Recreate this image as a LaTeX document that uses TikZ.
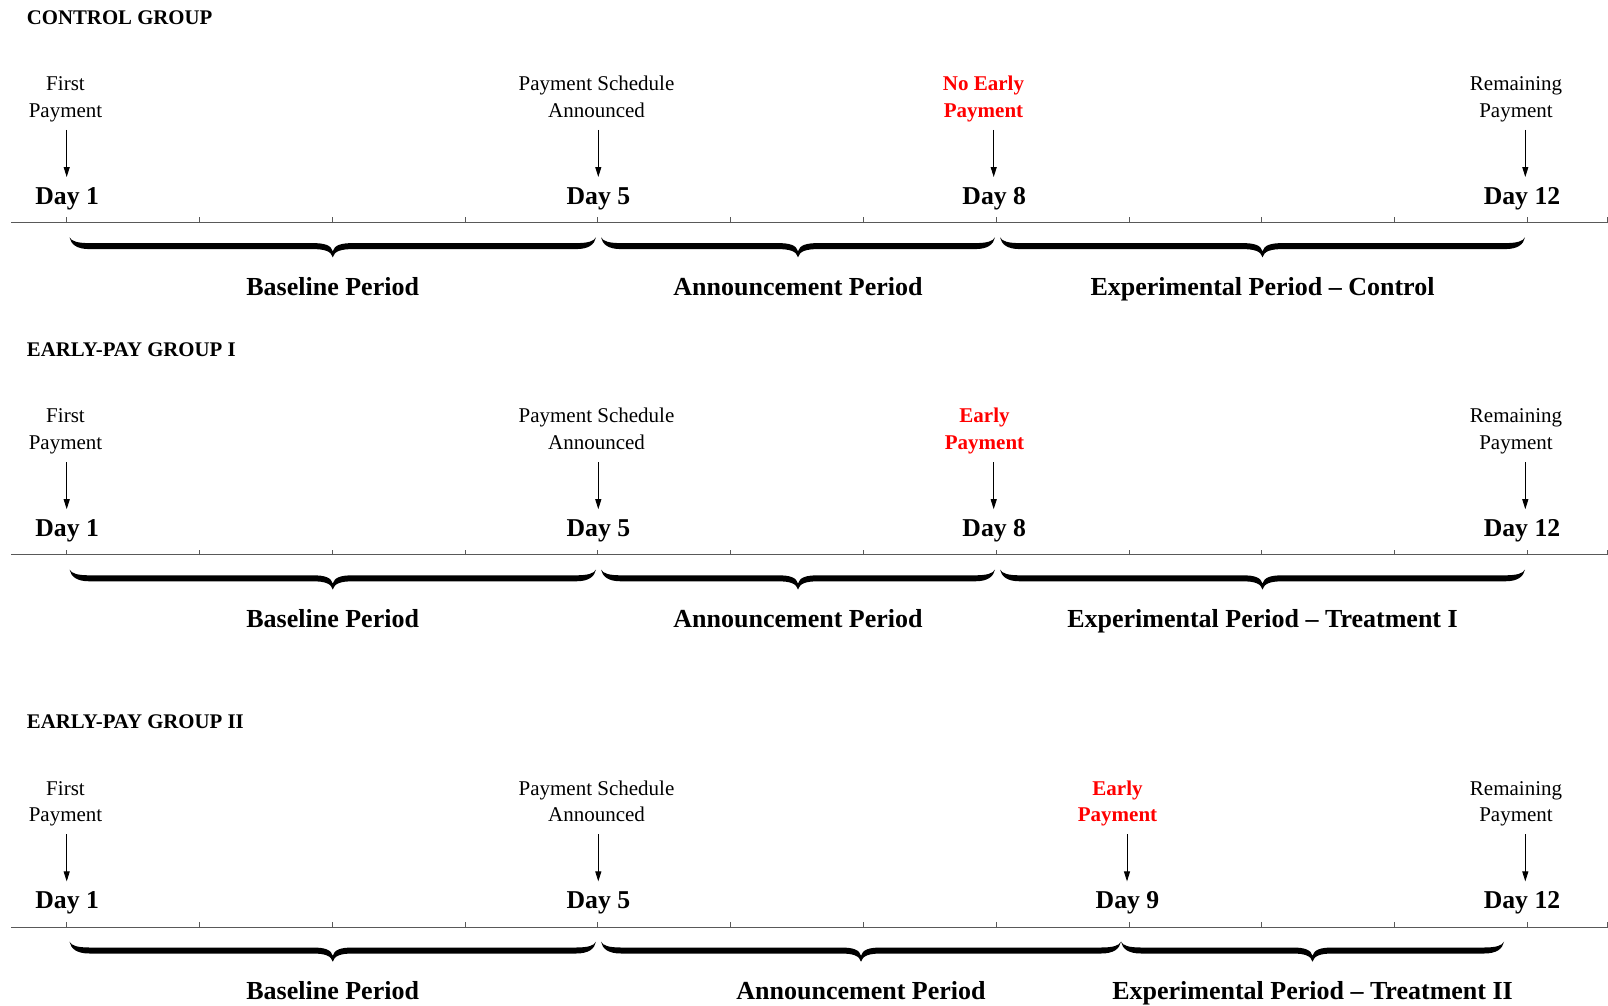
\documentclass[tikz,border=0pt]{standalone}
\usepackage{fontspec}
\setmainfont{Liberation Serif}
\usetikzlibrary{arrows.meta}
\tikzset{
  x=1pt,y=-1pt,
  grouptitle/.style={anchor=base west,inner sep=0,font=\fontsize{20.8}{25}\selectfont\bfseries},
  evlabel/.style={anchor=base,inner sep=0,align=center,font=\fontsize{21}{26.7}\selectfont},
  redlabel/.style={evlabel,text=red,font=\fontsize{21}{26.7}\selectfont\bfseries},
  daylabel/.style={anchor=base,inner sep=0,font=\fontsize{25.7}{30}\selectfont\bfseries},
  periodlabel/.style={anchor=base,inner sep=0,font=\fontsize{26}{30}\selectfont\bfseries},
  axisline/.style={draw=black!65,line width=1.1pt},
  tickmark/.style={draw=black!65,line width=1pt},
  evarrow/.style={draw=black,line width=0.9pt,-{Triangle[length=10pt,width=6pt]}},
}
% brace from x=#1 to x=#2
\newcommand\DrawBrace[2]{%
  \pgfmathsetmacro\brA{#1}\pgfmathsetmacro\brB{#2}\pgfmathsetmacro\brM{(#1+#2)/2}%
  \fill[black] (\brA,237.3) .. controls (\brA+1.5,244.3) and (\brA+7,249.1) .. (\brA+20,249.1)
    -- (\brM-20,249.1) .. controls (\brM-8,249.1) and (\brM-1.5,251.3) .. (\brM,257.3)
    .. controls (\brM+1.5,251.3) and (\brM+8,249.1) .. (\brM+20,249.1)
    -- (\brB-20,249.1) .. controls (\brB-7,249.1) and (\brB-1.5,244.3) .. (\brB,237.3)
    .. controls (\brB-2,241.3) and (\brB-8,243.1) .. (\brB-20,243.1)
    -- (\brM+20,243.1) .. controls (\brM+8,243.1) and (\brM+1.5,245.3) .. (\brM,251.3)
    .. controls (\brM-1.5,245.3) and (\brM-8,243.1) .. (\brM-20,243.1)
    -- (\brA+20,243.1) .. controls (\brA+8,243.1) and (\brA+2,241.3) .. (\brA,237.3) -- cycle;%
}
% parts shared by all three groups; #1 = name suffix, #2 = title
\newcommand\CommonPart[2]{%
  \node[grouptitle] (title#1) at (26.7,24.3) {#2};
  \node[evlabel] (first#1) at (65.5,117.3) {First\\Payment};
  \node[evlabel] (sched#1) at (596.5,117.3) {Payment Schedule\\Announced};
  \node[evlabel] (rem#1) at (1516,117.3) {Remaining\\Payment};
  \node[daylabel] (dayA#1) at (67.2,204) {Day 1};
  \node[daylabel] (dayB#1) at (598.4,204) {Day 5};
  \node[daylabel] (dayD#1) at (1522,204) {Day 12};
  \coordinate (sA#1) at (66.7,130); \coordinate (eA#1) at (66.7,177);
  \coordinate (sB#1) at (598.3,130); \coordinate (eB#1) at (598.3,177);
  \coordinate (sD#1) at (1525.3,130); \coordinate (eD#1) at (1525.3,177);
  \draw[evarrow] (sA#1) -- (eA#1);
  \draw[evarrow] (sB#1) -- (eB#1);
  \draw[evarrow] (sD#1) -- (eD#1);
  \coordinate (axL#1) at (11,222.7); \coordinate (axR#1) at (1608,222.7);
  \draw[axisline] (axL#1) -- (axR#1);
  \foreach \d in {1,...,12} \draw[tickmark] ({66.7+(\d-1)*132.8},223) -- ++(0,-5.6);
  \draw[tickmark] (1607.3,223) -- ++(0,-5.6);
  \DrawBrace{69.5}{596}
  \node[periodlabel] (perA#1) at (332.7,295.5) {Baseline Period};
}
\begin{document}
\begin{tikzpicture}
\useasboundingbox (0,0) rectangle (1608,1006);
% ---------- CONTROL GROUP ----------
\begin{scope}
  \CommonPart{a}{CONTROL GROUP}
  \node[redlabel] (red a) at (983.5,117.3) {No Early\\Payment};
  \node[daylabel] (dayC a) at (994.2,204) {Day 8};
  \coordinate (sCa) at (993.7,130); \coordinate (eCa) at (993.7,177);
  \draw[evarrow] (sCa) -- (eCa);
  \DrawBrace{601}{995}
  \DrawBrace{1000}{1525}
  \node[periodlabel] (perB a) at (798,295.5) {Announcement Period};
  \node[periodlabel] (perC a) at (1262.5,295.5) {Experimental Period -- Control};
\end{scope}
% ---------- EARLY-PAY GROUP I ----------
\begin{scope}[shift={(0,332.2)}]
  \CommonPart{b}{EARLY-PAY GROUP I}
  \node[redlabel] (red b) at (984.5,117.3) {Early\\Payment};
  \node[daylabel] (dayC b) at (994.2,204) {Day 8};
  \coordinate (sCb) at (993.7,130); \coordinate (eCb) at (993.7,177);
  \draw[evarrow] (sCb) -- (eCb);
  \DrawBrace{601}{995}
  \DrawBrace{1000}{1525}
  \node[periodlabel] (perB b) at (798,295.5) {Announcement Period};
  \node[periodlabel] (perC b) at (1262.5,295.5) {Experimental Period -- Treatment I};
\end{scope}
% ---------- EARLY-PAY GROUP II ----------
\begin{scope}[shift={(0,704.4)}]
  \CommonPart{c}{EARLY-PAY GROUP II}
  \node[redlabel] (red c) at (1117.5,117.3) {Early\\Payment};
  \node[daylabel] (dayC c) at (1127.5,204) {Day 9};
  \coordinate (sCc) at (1127,130); \coordinate (eCc) at (1127,177);
  \draw[evarrow] (sCc) -- (eCc);
  \DrawBrace{601}{1121}
  \DrawBrace{1121}{1504}
  \node[periodlabel] (perB c) at (861,295.5) {Announcement Period};
  \node[periodlabel] (perC c) at (1312.5,295.5) {Experimental Period -- Treatment II};
\end{scope}
\end{tikzpicture}
\end{document}
